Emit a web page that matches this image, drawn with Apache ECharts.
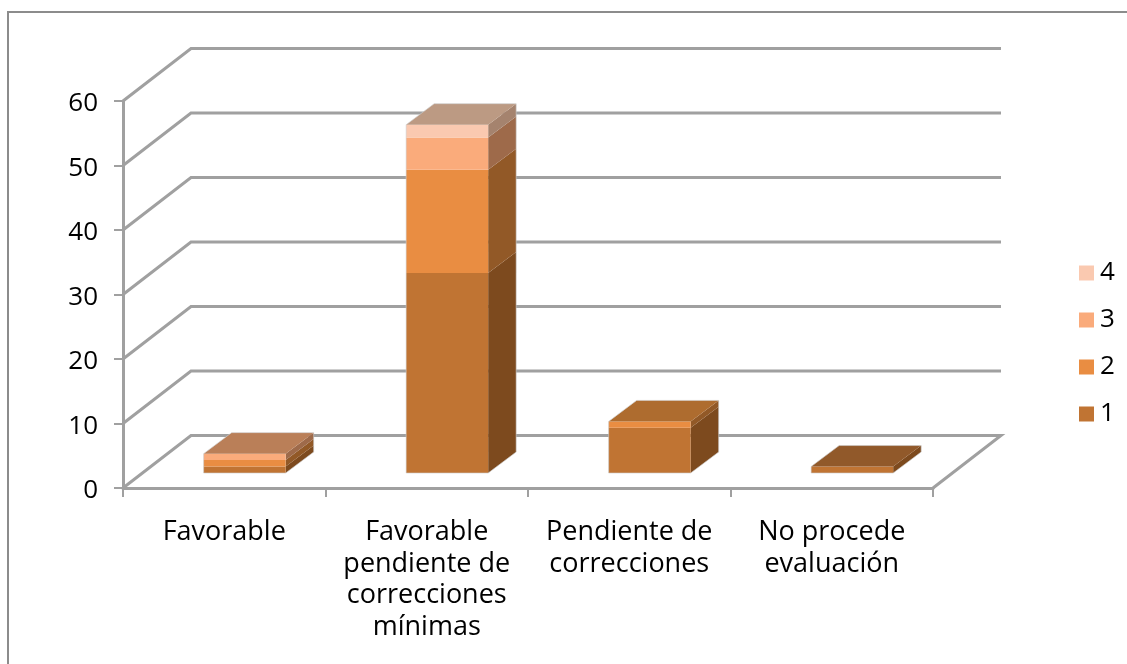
<!DOCTYPE html>
<html>
<head>
<meta charset="utf-8">
<script src="https://cdn.jsdelivr.net/npm/echarts@6/dist/echarts.min.js"></script>
<style>
    html, body { margin: 0; padding: 0; background: #fff; }
    #main { width: 1127px; height: 664px; }
</style>
</head>
<body>
<div id="main"></div>
<script>
    var categories = ['Favorable', 'Favorable\npendiente de\ncorrecciones\nmínimas', 'Pendiente de\ncorrecciones', 'No procede\nevaluación'];
    var seriesNames = ['1', '2', '3', '4'];
    var serie1 = [1, 31, 7, 1];
    var serie2 = [1, 16, 1, 0];
    var serie3 = [1, 5, 0, 0];
    var serie4 = [0, 2, 0, 0];
    var yTicks = [0, 10, 20, 30, 40, 50, 60];

    var frontColors = ['#C07433', '#E98D42', '#FAAB7B', '#FAC9B0'];
    var sideColors = ['#7D4A1E', '#925927', '#9E6A4A', '#A5836E'];
    var topColors = ['#91592A', '#AE6C2F', '#BA7F58', '#BC9A83'];

    // depth of the 3d box, in pixels
    var DEPTH_X = 68, DEPTH_Y = 52.5;
    var FONT = '"Open Sans"';
    var GRAY = '#A0A0A0';

    var chart = echarts.init(document.getElementById('main'));

    var allSeries = [serie1, serie2, serie3, serie4];

    function stackData(k) {
        return categories.map(function (c, i) {
            var start = 0, above = 0;
            for (var n = 0; n < k; n++) start += allSeries[n][i];
            for (var m = k + 1; m < allSeries.length; m++) above += allSeries[m][i];
            return [i, start, start + allSeries[k][i], above === 0 ? 1 : 0];
        });
    }

    function renderWall(params, api) {
        var p = api.coord([0, api.value(0)]);
        var catW = api.size([1, 0])[0];
        var x0 = p[0] - catW / 2;
        var x1 = x0 + catW * categories.length;
        var y = p[1];
        var pts = [[x0, y], [x0 + DEPTH_X, y - DEPTH_Y], [x1 + DEPTH_X, y - DEPTH_Y]];
        if (api.value(0) === 0) pts.push([x1, y]);
        return {
            type: 'polyline',
            shape: {points: pts},
            style: {fill: null, stroke: GRAY, lineWidth: 3},
            silent: true
        };
    }

    function makeRender(k) {
        return function (params, api) {
            var from = api.value(1), to = api.value(2);
            if (to <= from) return null;
            var pa = api.coord([api.value(0), from]);
            var pb = api.coord([api.value(0), to]);
            var base = api.coord([api.value(0), 0]);
            var catW = api.size([1, 0])[0];
            var barW = catW * 0.405;
            var dx = 28, dy = 21;
            // bars stand 0.3 of the depth away from the front edge
            var l = pa[0] - barW / 2 + DEPTH_X * 0.3;
            var r = l + barW;
            var off = 15;
            var yb = pa[1] - off, yt = pb[1] - off, y0 = base[1] - off;
            var children = [{
                type: 'polygon',
                shape: {points: [[r, yb], [r + dx, yb - dy], [r + dx, yt - dy], [r, yt]]},
                style: {fill: sideColors[k]}
            }, {
                type: 'rect',
                shape: {x: l, y: yt, width: barW, height: yb - yt},
                style: {fill: frontColors[k]}
            }];
            if (api.value(3)) {
                children.push({
                    type: 'polygon',
                    shape: {points: [[l, yt], [l + dx, yt - dy], [r + dx, yt - dy], [r, yt]]},
                    style: {fill: topColors[k]}
                });
                // pale outline round the whole box
                children.push({
                    type: 'polygon',
                    shape: {points: [[l, y0], [r, y0], [r + dx, y0 - dy], [r + dx, yt - dy], [l + dx, yt - dy], [l, yt]]},
                    style: {fill: null, stroke: 'rgba(205,205,205,0.6)', lineWidth: 1}
                });
            }
            return {type: 'group', children: children};
        };
    }

    var series = [{
        type: 'custom',
        name: 'walls',
        renderItem: renderWall,
        data: yTicks.map(function (v) { return [v]; }),
        encode: {y: 0},
        silent: true,
        z: 1
    }];
    seriesNames.forEach(function (name, k) {
        series.push({
            type: 'custom',
            name: name,
            renderItem: makeRender(k),
            data: stackData(k),
            encode: {x: 0, y: [1, 2]},
            itemStyle: {color: frontColors[k]},
            z: 2 + k
        });
    });

    chart.setOption({
        animation: false,
        backgroundColor: '#fff',
        textStyle: {fontFamily: FONT},
        graphic: [{
            type: 'polyline',
            shape: {points: [[8, 664], [8, 12], [1127, 12]]},
            style: {fill: null, stroke: '#8C8C8C', lineWidth: 2}
        }],
        legend: {
            data: ['4', '3', '2', '1'],
            orient: 'vertical',
            left: 1079,
            top: 260,
            padding: 0,
            icon: 'rect',
            itemWidth: 15,
            itemHeight: 15,
            itemGap: 21,
            textStyle: {fontFamily: FONT, fontSize: 26, lineHeight: 26, color: '#000', padding: [0, 0, 0, 1]}
        },
        grid: {left: 123, right: 194, top: 101, bottom: 176},
        xAxis: {
            type: 'category',
            data: categories,
            axisLine: {lineStyle: {color: GRAY, width: 3}},
            axisTick: {show: true, length: 9, lineStyle: {color: GRAY, width: 2}},
            axisLabel: {
                interval: 0,
                fontFamily: FONT,
                fontSize: 27,
                lineHeight: 31.5,
                color: '#000',
                margin: 29
            }
        },
        yAxis: {
            type: 'value',
            min: 0,
            max: 60,
            interval: 10,
            axisLine: {show: true, lineStyle: {color: GRAY, width: 3}},
            axisTick: {show: true, length: 9, lineStyle: {color: GRAY, width: 2}},
            splitLine: {show: false},
            axisLabel: {fontFamily: FONT, fontSize: 26, color: '#000', margin: 25, verticalAlign: 'top', lineHeight: 6}
        },
        series: series
    });
</script>
</body>
</html>
